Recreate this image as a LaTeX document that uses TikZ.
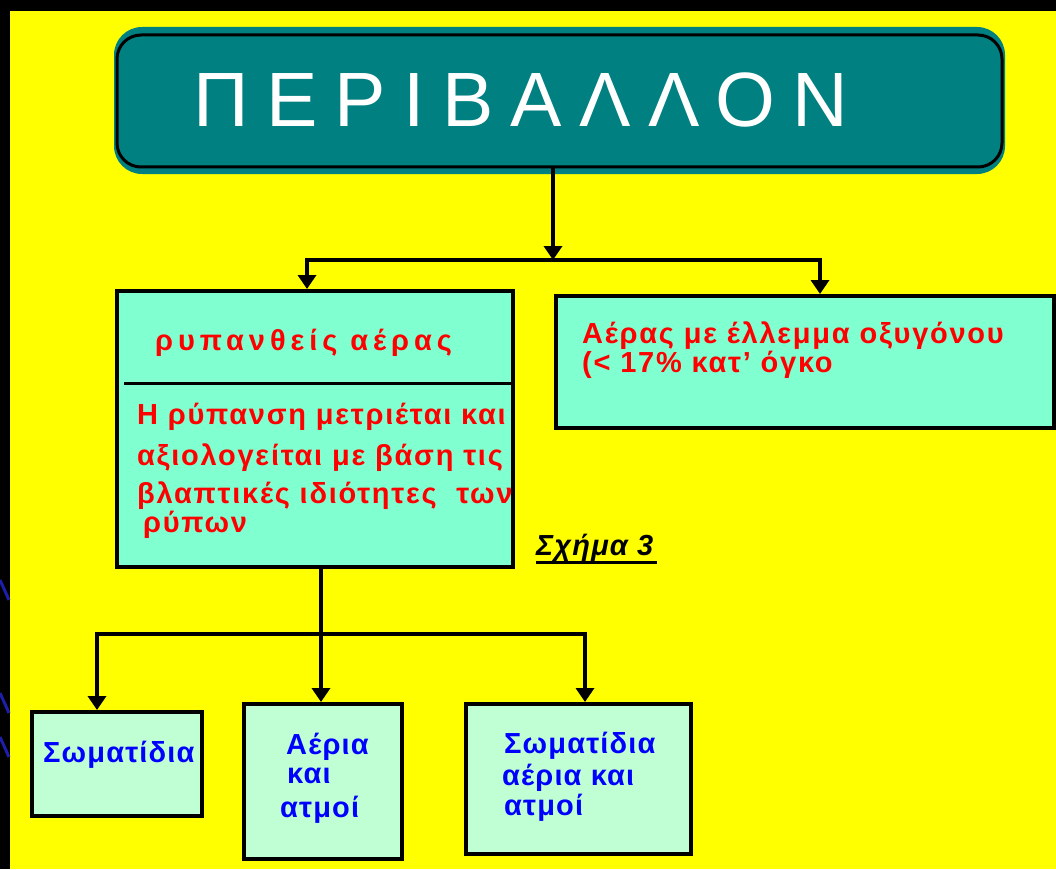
\documentclass[tikz,border=0pt]{standalone}
\usepackage{fontspec}
\setmainfont{Liberation Sans}
\newfontfamily\titlefont[LetterSpace=22.5]{Liberation Sans}
\newfontfamily\headfont[LetterSpace=17]{Liberation Sans}
\newfontfamily\bodyfont[LetterSpace=6]{Liberation Sans}
\newfontfamily\smallfont[LetterSpace=4]{Liberation Sans}
\usetikzlibrary{arrows.meta}
\definecolor{bgyellow}{RGB}{255,255,0}
\definecolor{teal1}{RGB}{0,128,128}
\definecolor{aqua1}{RGB}{128,255,208}
\definecolor{mint1}{RGB}{192,255,212}
\definecolor{navy1}{RGB}{30,30,170}
\begin{document}
\begin{tikzpicture}[x=1pt,y=-1pt,
  box/.style={draw=black, line width=4pt, inner sep=0pt},
  conn/.style={draw=black, line width=4pt},
  endarrow/.style={-{Triangle[width=18pt,length=14pt]}},
  redtxt/.style={text=red, font=\bodyfont\bfseries\fontsize{29}{29}\selectfont, anchor=base west, inner sep=0pt},
  headtxt/.style={text=red, font=\headfont\bfseries\fontsize{29}{29}\selectfont, anchor=base west, inner sep=0pt},
  bluetxt/.style={text=blue, font=\smallfont\bfseries\fontsize{29}{29}\selectfont, anchor=base west, inner sep=0pt}
]
\useasboundingbox (0,0) rectangle (1056,869);
% background
\fill[black] (0,0) rectangle (1056,869);
\fill[bgyellow] (10,11) rectangle (1056,869);
\draw[navy1, line width=3pt] (0,580) -- (9,600);
\draw[navy1, line width=3pt] (0,693) -- (9,713);
\draw[navy1, line width=3pt] (0,737) -- (9,757);

% title
\fill[teal1, rounded corners=28pt] (114,27) rectangle (1005,174);
\node[draw=black, line width=3pt, fill=teal1, rounded corners=24pt, minimum width=885pt, minimum height=132pt, inner sep=0pt] (t) at (559.5,101) {};
\node[anchor=base west, inner sep=0pt, text=white, font=\titlefont\fontsize{77}{77}\selectfont] (tt) at (193,127) {ΠΕΡΙΒΑΛΛΟΝ};

% middle boxes
\node[box, fill=aqua1, minimum width=396pt, minimum height=276pt] (b1) at (315,429) {};
\node[box, fill=aqua1, minimum width=498pt, minimum height=132pt] (b2) at (805,362) {};
\draw[black, line width=3pt] (b1.west |- 0,383) ++(9,0) coordinate (dl) -- (b1.east |- dl) ++(-5,0) coordinate (dr);

\node[headtxt] (h1) at (155,350) {ρυπανθείς αέρας};
\begin{scope}
\clip (119,293) rectangle (511,565);
\node[redtxt] (l1) at (137,424) {Η ρύπανση μετριέται και};
\node[redtxt] (l2) at (137,465) {αξιολογείται με βάση τις};
\node[redtxt] (l3) at (137,503) {βλαπτικές ιδιότητες\ \ των};
\node[redtxt] (l4) at (143,532) {ρύπων};
\end{scope}

\node[redtxt] (r1) at (582,343) {Αέρας με έλλεμμα οξυγόνου};
\node[redtxt] (r2) at (582,372) {(< 17\% κατ’ όγκο};

\node[anchor=base west, inner sep=0pt, font=\smallfont\bfseries\itshape\fontsize{29}{29}\selectfont] (fig) at (536,555) {Σχήμα 3};
\draw[black, line width=3pt] (fig.base west) ++(0,7) -- ++(121,0);

% bottom boxes
\node[box, fill=mint1, minimum width=170pt, minimum height=104pt] (c1) at (117,764) {};
\node[box, fill=mint1, minimum width=158pt, minimum height=155pt] (c2) at (323,781.5) {};
\node[box, fill=mint1, minimum width=225pt, minimum height=150pt] (c3) at (578.5,779) {};

\node[bluetxt] (s1) at (43,762) {Σωματίδια};
\node[bluetxt] (a1) at (286,754) {Αέρια};
\node[bluetxt] (a2) at (287,783) {και};
\node[bluetxt] (a3) at (280,817) {ατμοί};
\node[bluetxt] (m1) at (504,753) {Σωματίδια};
\node[bluetxt] (m2) at (502,785) {αέρια και};
\node[bluetxt] (m3) at (504,815) {ατμοί};

% connectors
\coordinate (j0) at (553,260);
\coordinate (jL) at (307,260);
\coordinate (jR) at (820,260);
\draw[conn, endarrow] (t.south -| j0) -- (j0);
\draw[conn, endarrow] (j0) -| (b1.north -| jL);
\draw[conn, endarrow] (j0) -| (b2.north -| jR);

\coordinate (k0) at (321,634);
\coordinate (kL) at (97,634);
\coordinate (kR) at (585,634);
\draw[conn, endarrow] (b1.south -| k0) -- (c2.north -| k0);
\draw[conn, endarrow] (k0) -| (c1.north -| kL);
\draw[conn, endarrow] (k0) -| (c3.north -| kR);
\end{tikzpicture}
\end{document}
